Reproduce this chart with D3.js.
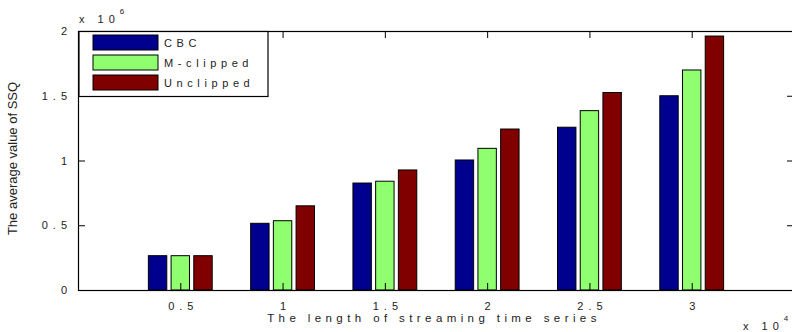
<!DOCTYPE html>
<html><head><meta charset="utf-8">
<script src="https://cdn.jsdelivr.net/npm/d3@7"></script>
<style>body{margin:0;background:#fff}svg{display:block}text{font-family:"Liberation Sans",Arial,sans-serif;fill:#222}</style>
</head><body><svg id="c" width="792" height="332"></svg>
<script>
const categories = [0.5, 1, 1.5, 2, 2.5, 3];
const seriesNames = ["CBC", "M-clipped", "Unclipped"];
const cbc       = [0.265, 0.515, 0.826, 1.004, 1.257, 1.500];
const mclipped  = [0.265, 0.535, 0.840, 1.094, 1.385, 1.699];
const unclipped = [0.265, 0.650, 0.927, 1.243, 1.525, 1.961];
const colors = ["#00008f", "#8fff70", "#800000"];
const xTicks = [0.5, 1, 1.5, 2, 2.5, 3];
const yTicks = [0, 0.5, 1, 1.5, 2];
const tickLabel = d => String(d);

const svg = d3.select("#c");
const L = 78, R = 794, T = 31, B = 290;
const x = d3.scaleLinear().domain([0, 3.5]).range([L, R]);
const y = d3.scaleLinear().domain([0, 2]).range([B, T]);
const series = [cbc, mclipped, unclipped];
const barW = 0.09, off = 0.111;

// bars
series.forEach((vals, si) => {
  svg.append("g").selectAll("rect").data(vals).join("rect")
    .attr("x", (d, i) => x(categories[i] + (si - 1) * off - barW / 2))
    .attr("width", x(barW) - x(0))
    .attr("y", d => y(d))
    .attr("height", d => y(0) - y(d))
    .attr("fill", colors[si])
    .attr("stroke", "#000").attr("stroke-width", 1);
});

const ls = "5px";
// axes
const ax = (sel, g, dx) => { sel.call(g); sel.select(".domain").remove(); sel.selectAll("line").attr("stroke", "#000"); sel.selectAll("text").attr("fill", "#222").style("font-size", "11px").style("letter-spacing", ls).attr("font-family", null).attr("dx", dx || null); };
svg.append("g").attr("transform", `translate(0,${B})`).call(s => ax(s, d3.axisBottom(x).tickValues(xTicks).tickSize(-7).tickPadding(12).tickFormat(tickLabel), "2.5"));
svg.append("g").attr("transform", `translate(0,${T})`).call(s => { ax(s, d3.axisTop(x).tickValues(xTicks).tickSize(-7).tickFormat("")); });
svg.append("g").attr("transform", `translate(${L},0)`).call(s => ax(s, d3.axisLeft(y).tickValues(yTicks).tickSize(-7).tickPadding(6).tickFormat(tickLabel)));
svg.append("g").attr("transform", `translate(${R},0)`).call(s => ax(s, d3.axisRight(y).tickValues(yTicks).tickSize(-7).tickFormat("")));
svg.append("rect").attr("x", L + 0.5).attr("y", T + 0.5).attr("width", R - L).attr("height", B - T)
  .attr("fill", "none").attr("stroke", "#000").attr("stroke-width", 1.2);

// exponent labels
const exp6 = svg.append("text").attr("x", L + 1).attr("y", 23).style("font-size", "11px").style("letter-spacing", "5px");
exp6.append("tspan").text("x 10");
exp6.append("tspan").attr("dy", -9).style("font-size", "8px").text("6");
const exp4 = svg.append("text").attr("x", 743).attr("y", 330).style("font-size", "11px").style("letter-spacing", "5px");
exp4.append("tspan").text("x 10");
exp4.append("tspan").attr("dy", -9).style("font-size", "8px").text("4");

// axis titles
svg.append("text").attr("x", (L + R) / 2 - 2).attr("y", 322).attr("text-anchor", "middle")
  .style("font-size", "11.5px").style("letter-spacing", "4.4px").text("The length of streaming time series");
svg.append("text").attr("transform", `translate(17,${(T + B) / 2 - 2}) rotate(-90)`).attr("text-anchor", "middle")
  .style("font-size", "13px").text("The average value of SSQ");

// legend
const lg = svg.append("g");
lg.append("rect").attr("x", L + 1).attr("y", T + 0.5).attr("width", 189).attr("height", 65)
  .attr("fill", "#fff").attr("stroke", "#000").attr("stroke-width", 1.2);
seriesNames.forEach((n, i) => {
  const yy = 35 + i * 20;
  lg.append("rect").attr("x", 93).attr("y", yy).attr("width", 65).attr("height", 15)
    .attr("fill", colors[i]).attr("stroke", "#000").attr("stroke-width", 1);
  lg.append("text").attr("x", 164).attr("y", yy + 12).style("font-size", "11px").style("letter-spacing", "4.6px").text(n);
});
</script></body></html>
